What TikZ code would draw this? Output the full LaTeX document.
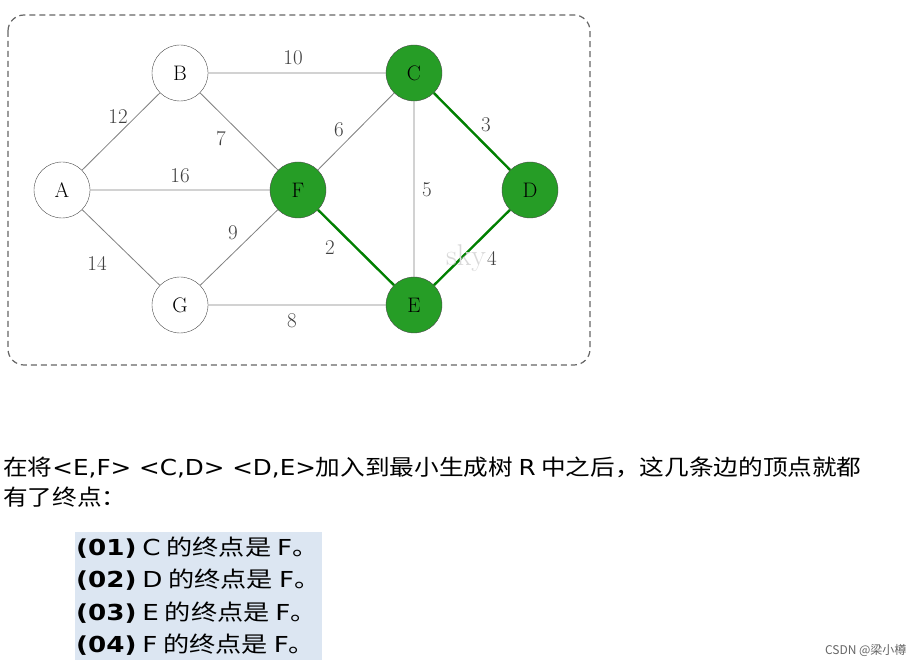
\documentclass[tikz,border=0pt]{standalone}
\usepackage{fontspec}
\usepackage{graphicx}
\newfontfamily\cjk{Noto Sans CJK SC}
\newfontfamily\lat{DejaVu Sans}
\definecolor{hlc}{HTML}{DCE6F2}
\begin{document}
\begin{tikzpicture}[x=1pt,y=-1pt,
  vtx/.style={circle,draw=black!70,minimum size=56pt,inner sep=0pt,font=\fontsize{21}{21}\selectfont,fill=white},
  grn/.style={vtx,fill=green!55!black!85},
  edg/.style={draw=black!50,line width=0.8pt},
  tree/.style={draw=green!50!black,line width=2.4pt},
  wt/.style={font=\fontsize{21}{21}\selectfont,text=black!75,inner sep=0pt},
  txt/.style={font=\cjk\fontsize{22}{22}\selectfont,anchor=west,inner sep=0pt},
  hl/.style={fill=hlc,draw=none}]
\useasboundingbox (0,0) rectangle (924,668);
\fill[white] (0,0) rectangle (924,668);
\draw[line width=1.2pt,black!60,rounded corners=16pt,dash pattern=on 6pt off 4pt] (8,15) rectangle (590,365);
\node[vtx] (A) at (62,190) {A};
\node[vtx] (B) at (180,73) {B};
\node[grn] (C) at (414,73) {C};
\node[grn] (D) at (530,190) {D};
\node[grn] (E) at (414,305) {E};
\node[grn] (F) at (298,190) {F};
\node[vtx] (G) at (180,305) {G};
\path[edg] (A)--(B) (A)--(F) (A)--(G) (B)--(C) (B)--(F) (C)--(F) (C)--(E) (G)--(F) (G)--(E);
\path[tree] (F)--(E) (C)--(D) (D)--(E);
\node[font=\fontsize{30}{30}\selectfont,text=black!15] (sky) at (466,258) {sky};
\node[wt] (w10) at (293,58) {10};
\node[wt] (w12) at (118,117) {12};
\node[wt] (w7) at (221,139) {7};
\node[wt] (w6) at (339,130) {6};
\node[wt] (w3) at (486,125) {3};
\node[wt] (w16) at (180,176) {16};
\node[wt] (w5) at (427,190) {5};
\node[wt] (w9) at (233,233) {9};
\node[wt] (w2) at (330,248) {2};
\node[wt] (w4) at (492,258) {4};
\node[wt] (w14) at (97,263) {14};
\node[wt] (w8) at (292,321) {8};
\node[txt] (t1) at (3,467) {\scalebox{1.12}[1]{在将{\lat <E,F> <C,D> <D,E>}加入到最小生成树 {\lat R} 中之后，这几条边的顶点就都}};
\node[txt] (t2) at (3,497) {\scalebox{1.12}[1]{有了终点：}};
\fill[hl] (75,532) rectangle (322,660);
\node[txt] (l1) at (76,548) {\scalebox{1.19}[1]{{\lat\bfseries (01)} {\lat C} 的终点是 {\lat F}。}};
\node[txt] (l2) at (76,580) {\scalebox{1.19}[1]{{\lat\bfseries (02)} {\lat D} 的终点是 {\lat F}。}};
\node[txt] (l3) at (76,613) {\scalebox{1.19}[1]{{\lat\bfseries (03)} {\lat E} 的终点是 {\lat F}。}};
\node[txt] (l4) at (76,645) {\scalebox{1.19}[1]{{\lat\bfseries (04)} {\lat F} 的终点是 {\lat F}。}};
\node[font=\cjk\fontsize{12}{12}\selectfont,text=black!60,anchor=east] (csdn) at (910,650) {CSDN @梁小樽};
\end{tikzpicture}
\end{document}
